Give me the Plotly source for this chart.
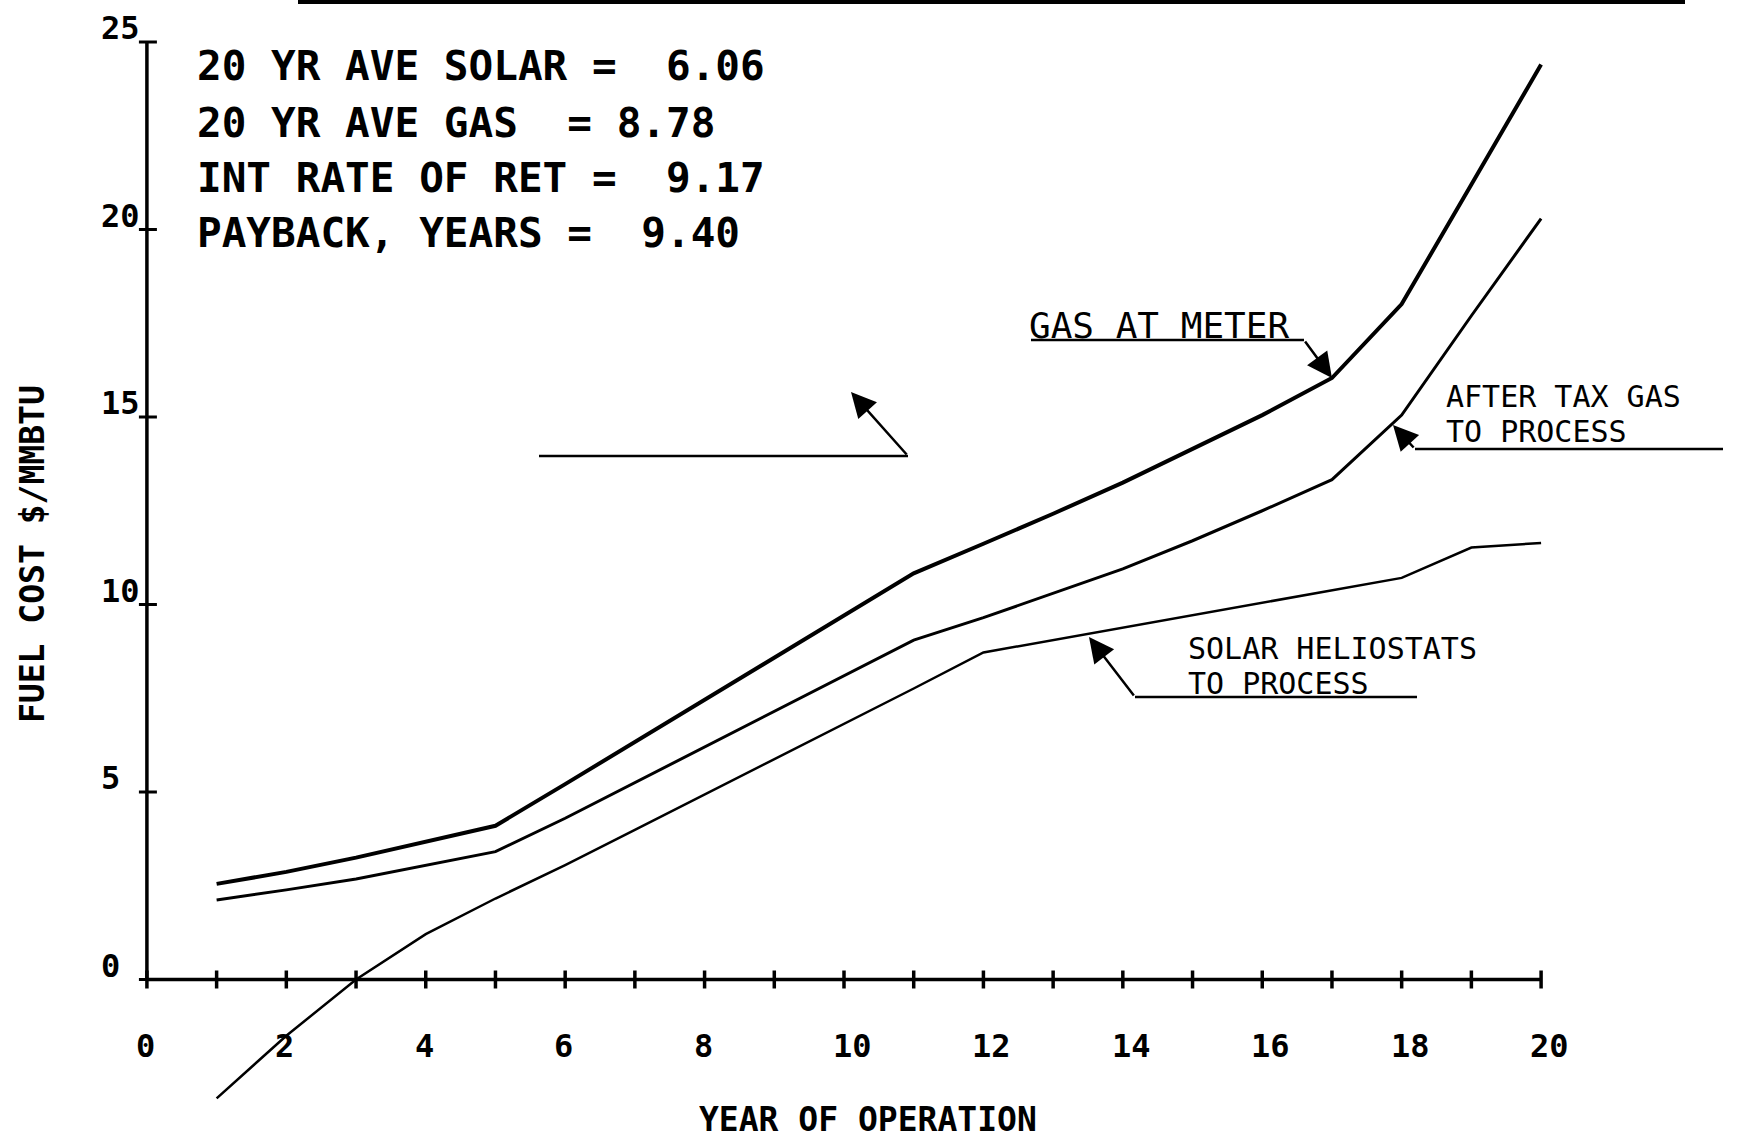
import plotly.graph_objects as go

# ---------------- data ----------------
years = list(range(1, 21))
gas_at_meter = [2.55, 2.87, 3.25, 3.67, 4.10, 5.21, 6.33, 7.46, 8.58, 9.71,
                10.83, 11.62, 12.42, 13.25, 14.15, 15.05, 16.04, 18.01, 21.2, 24.4]
after_tax_gas = [2.12, 2.39, 2.68, 3.05, 3.41, 4.30, 5.25, 6.20, 7.15, 8.10,
                 9.05, 9.65, 10.30, 10.95, 11.70, 12.50, 13.33, 15.05, 17.70, 20.29]
solar_heliostats = [-3.17, -1.50, 0.00, 1.21, 2.16, 3.05, 3.99, 4.93, 5.87, 6.82,
                    7.76, 8.72, 9.05, 9.38, 9.71, 10.04, 10.37, 10.71, 11.52, 11.64]

x_ticks = list(range(0, 21))
x_tick_labels = [str(v) for v in range(0, 21, 2)]
y_ticks = [0, 5, 10, 15, 20, 25]
y_tick_labels = [str(v) for v in y_ticks]

stats_lines = [
    "20 YR AVE SOLAR =\u00a0\u00a06.06",
    "20 YR AVE GAS\u00a0\u00a0= 8.78",
    "INT RATE OF RET =\u00a0\u00a09.17",
    "PAYBACK, YEARS =\u00a0\u00a09.40",
]

# ---------------- geometry ----------------
W, H = 1756, 1138
L, R, T, B = 126, 194, 4, 8
PW, PH = W - L - R, H - T - B
X_LO, X_HI = -0.3, 20.3
XPPU = PW / (X_HI - X_LO)
YPIX0, YPPU = 979.5, 37.5
Y_HI = (YPIX0 - T) / YPPU
Y_LO = Y_HI - PH / YPPU

def xp(px):  # pixel -> paper x
    return (px - L) / PW

def yp(py):  # pixel -> paper y
    return (H - B - py) / PH

def xd(px):  # pixel -> data x
    return X_LO + (px - L) / XPPU

def yd(py):  # pixel -> data y
    return (YPIX0 - py) / YPPU

FONT = "DejaVu Sans Mono"
BLACK = "#000000"

fig = go.Figure()
fig.add_trace(go.Scatter(x=years, y=gas_at_meter, mode="lines",
                         line=dict(color=BLACK, width=4), name="GAS AT METER"))
fig.add_trace(go.Scatter(x=years, y=after_tax_gas, mode="lines",
                         line=dict(color=BLACK, width=3), name="AFTER TAX GAS TO PROCESS"))
fig.add_trace(go.Scatter(x=years, y=solar_heliostats, mode="lines",
                         line=dict(color=BLACK, width=2.5), name="SOLAR HELIOSTATS TO PROCESS"))

shapes = []
# axis lines
shapes.append(dict(type="line", xref="x", yref="y", x0=0, x1=20, y0=0, y1=0,
                   line=dict(color=BLACK, width=3.5)))
shapes.append(dict(type="line", xref="x", yref="y", x0=0, x1=0, y0=0, y1=25,
                   line=dict(color=BLACK, width=3.5)))
# crossing ticks
for v in x_ticks:
    shapes.append(dict(type="line", xref="x", yref="y", x0=v, x1=v,
                       ysizemode="pixel", yanchor=0, y0=-9, y1=9,
                       line=dict(color=BLACK, width=3.5)))
for v in y_ticks:
    shapes.append(dict(type="line", xref="x", yref="y", y0=v, y1=v,
                       xsizemode="pixel", xanchor=0, x0=-8, x1=10,
                       line=dict(color=BLACK, width=3)))
# top line (cropped title rule)
shapes.append(dict(type="line", xref="paper", yref="paper", x0=xp(298), x1=xp(1685),
                   y0=yp(2), y1=yp(2), line=dict(color=BLACK, width=4)))
# leader underlines
for (a, b, y) in [(1031, 1304, 340), (1415, 1723, 449), (1135, 1417, 697), (539, 908, 456)]:
    shapes.append(dict(type="line", xref="paper", yref="paper", x0=xp(a), x1=xp(b),
                       y0=yp(y), y1=yp(y), line=dict(color=BLACK, width=2.5)))

ann = []
# stats text
for i, s in enumerate(stats_lines):
    cy = [64, 121, 176, 231][i]
    ann.append(dict(text="<b>" + s + "</b>", xref="paper", yref="paper", x=xp(195), y=yp(cy + 2),
                    xanchor="left", yanchor="middle", showarrow=False,
                    font=dict(family=FONT, size=41, color=BLACK)))
# x tick labels
for lab in x_tick_labels:
    v = int(lab)
    ann.append(dict(text="<b>" + lab + "</b>", xref="x", yref="paper", x=v, y=yp(1046),
                    xanchor="left", yanchor="middle", xshift=-13, showarrow=False,
                    font=dict(family=FONT, size=32, color=BLACK)))
# y tick labels
for lab in y_tick_labels:
    v = int(lab)
    ann.append(dict(text="<b>" + lab + "</b>", xref="paper", yref="y", x=xp(99), y=v,
                    xanchor="left", yanchor="middle", yshift=14, showarrow=False,
                    font=dict(family=FONT, size=32, color=BLACK)))
# axis titles
ann.append(dict(text="<b>YEAR OF OPERATION</b>", xref="paper", yref="paper", x=xp(868), y=yp(1119),
                xanchor="center", yanchor="middle", showarrow=False, height=34,
                font=dict(family=FONT, size=33, color=BLACK)))
ann.append(dict(text="<b>FUEL COST $/MMBTU</b>", xref="paper", yref="paper", x=xp(32), y=yp(554),
                xanchor="center", yanchor="middle", showarrow=False, textangle=-90,
                font=dict(family=FONT, size=33, color=BLACK)))
# curve labels
for (txt, lx, cy, sz) in [("GAS AT METER", 1027, 325, 36),
                          ("AFTER TAX GAS", 1444, 395, 30),
                          ("TO PROCESS", 1444, 431, 30),
                          ("SOLAR HELIOSTATS", 1186, 647, 30),
                          ("TO PROCESS", 1186, 683, 30)]:
    ann.append(dict(text=txt, xref="paper", yref="paper", x=xp(lx), y=yp(cy + 1),
                    xanchor="left", yanchor="middle", showarrow=False,
                    font=dict(family=FONT, size=sz, color=BLACK)))
# arrows (tail at bend of leader, head at the curve)
for (tx, ty, hx, hy) in [(1304, 340, None, None), (1415, 449, 1393, 425),
                         (1135, 697, 1089, 637), (908, 456, 851, 392)]:
    if hx is None:
        head_x, head_y = years[16], gas_at_meter[16]
    else:
        head_x, head_y = xd(hx), yd(hy)
    ann.append(dict(text="", xref="x", yref="y", x=head_x, y=head_y,
                    axref="x", ayref="y", ax=xd(tx), ay=yd(ty),
                    showarrow=True, arrowhead=2, arrowsize=2.0, arrowwidth=2.5,
                    arrowcolor=BLACK, standoff=0))

fig.update_layout(
    width=W, height=H, autosize=False,
    margin=dict(l=L, r=R, t=T, b=B, pad=0),
    paper_bgcolor="white", plot_bgcolor="white",
    showlegend=False,
    xaxis=dict(range=[X_LO, X_HI], visible=False, showgrid=False, zeroline=False),
    yaxis=dict(range=[Y_LO, Y_HI], visible=False, showgrid=False, zeroline=False),
    shapes=shapes, annotations=ann,
)

fig.write_html("out.html", config={"displayModeBar": False},
               post_script="document.body.style.margin='0';")
